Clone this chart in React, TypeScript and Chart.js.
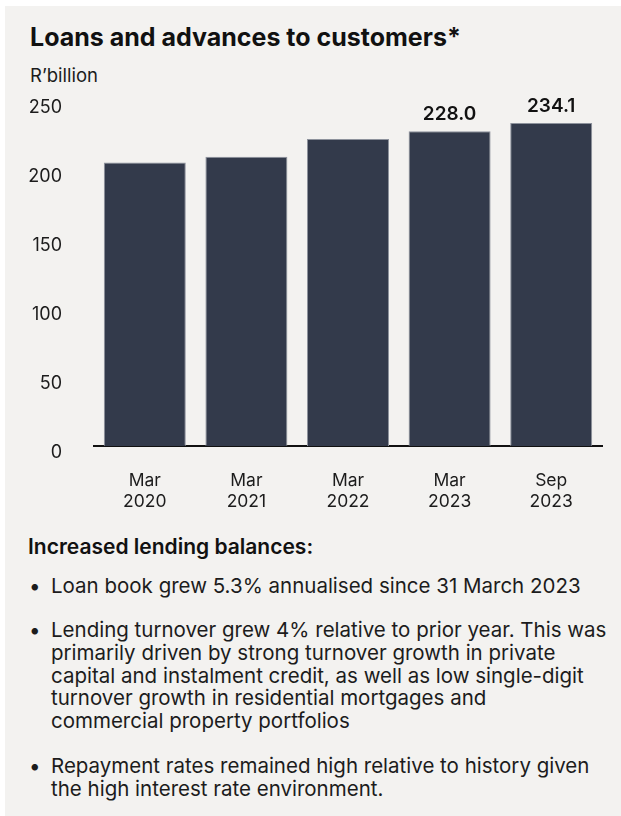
import React, { useEffect, useRef } from "react";
import { Chart, registerables } from "chart.js";

Chart.register(...registerables);

const categories: string[][] = [
  ["Mar", "2020"],
  ["Mar", "2021"],
  ["Mar", "2022"],
  ["Mar", "2023"],
  ["Sep", "2023"],
];
const values: number[] = [205.4, 209.6, 222.4, 228.0, 234.1];
const valueLabels: string[] = ["", "", "", "228.0", "234.1"];
const yMax = 250;
const yStep = 50;

const title = "Loans and advances to customers*";
const unitLabel = "R\u2019billion";
const heading = "Increased lending balances:";
const bullets: string[][] = [
  ["Loan book grew 5.3% annualised since 31 March 2023"],
  [
    "Lending turnover grew 4% relative to prior year. This was",
    "primarily driven by strong turnover growth in private",
    "capital and instalment credit, as well as low single-digit",
    "turnover growth in residential mortgages and",
    "commercial property portfolios",
  ],
  [
    "Repayment rates remained high relative to history given",
    "the high interest rate environment.",
  ],
];
const bulletTops = [574.5, 619, 755];

const FONT = "Inter, 'DejaVu Sans', sans-serif";
const TEXT = "#1c1c1c";

const valueLabelPlugin = {
  id: "valueLabels",
  afterDatasetsDraw(chart: any) {
    const ctx = chart.ctx;
    const meta = chart.getDatasetMeta(0);
    ctx.save();
    ctx.font = "600 19px Inter";
    ctx.fillStyle = "#111111";
    ctx.textAlign = "center";
    ctx.textBaseline = "middle";
    meta.data.forEach((bar: any, i: number) => {
      const t = valueLabels[i];
      if (t) ctx.fillText(t, bar.x, bar.y - 17);
    });
    ctx.restore();
  },
};

export default function App() {
  const ref = useRef<HTMLCanvasElement | null>(null);

  useEffect(() => {
    if (!ref.current) return;
    const chart = new Chart(ref.current, {
      type: "bar",
      data: {
        labels: categories,
        datasets: [
          {
            data: values,
            backgroundColor: "#333a4b",
            borderColor: "#8d929c",
            borderWidth: 1,
            categoryPercentage: 1,
            barPercentage: 0.807,
          },
        ],
      },
      options: {
        responsive: false,
        animation: false,
        events: [],
        layout: { padding: { left: 0, right: 19, top: 101, bottom: 0 } },
        plugins: {
          legend: { display: false },
          tooltip: { enabled: false },
          title: { display: false },
        },
        scales: {
          x: {
            grid: { display: false, drawTicks: false },
            border: { display: true, color: "#111111", width: 2 },
            ticks: {
              color: TEXT,
              font: { family: "Inter", size: 17.5, lineHeight: 1.2 },
              padding: 24,
              maxRotation: 0,
              autoSkip: false,
            },
            afterFit: (s: any) => {
              s.height = 84;
            },
          },
          y: {
            min: 0,
            max: yMax,
            grid: { display: false, drawTicks: false },
            border: { display: false },
            ticks: {
              stepSize: yStep,
              color: TEXT,
              font: { family: "Inter", size: 18 },
              padding: 32,
              labelOffset: 7,
            },
            afterFit: (s: any) => {
              s.width = 94;
            },
          },
        },
      },
      plugins: [valueLabelPlugin],
    });
    return () => chart.destroy();
  }, []);

  return (
    <div style={{ position: "absolute", left: 0, top: 0, width: 621, height: 816, overflow: "hidden", fontFamily: FONT, color: TEXT }}>
      <div style={{ position: "absolute", left: 5, top: 6, width: 616, height: 810, background: "#f3f2f0" }} />
      <div style={{ position: "absolute", left: 30, top: 22, fontSize: 25, fontWeight: 700, lineHeight: "30px", color: "#111", whiteSpace: "nowrap" }}>
        {title}
      </div>
      <div style={{ position: "absolute", left: 30, top: 64, fontSize: 18.5, lineHeight: "22px", whiteSpace: "nowrap" }}>
        {unitLabel}
      </div>
      <canvas ref={ref} width={621} height={530} style={{ position: "absolute", left: 0, top: 0, width: 621, height: 530 }} />
      <div style={{ position: "absolute", left: 28, top: 535, fontSize: 21, fontWeight: 600, lineHeight: "23px", color: "#111", whiteSpace: "nowrap" }}>
        {heading}
      </div>
      {bullets.map((lines, i) => (
        <div key={i} style={{ position: "absolute", left: 29, top: bulletTops[i], display: "flex", fontSize: 20.5, lineHeight: "22.8px" }}>
          <div style={{ width: 22 }}>{"\u2022"}</div>
          <div style={{ whiteSpace: "nowrap" }}>
            {lines.map((l, j) => (
              <div key={j}>{l}</div>
            ))}
          </div>
        </div>
      ))}
    </div>
  );
}
